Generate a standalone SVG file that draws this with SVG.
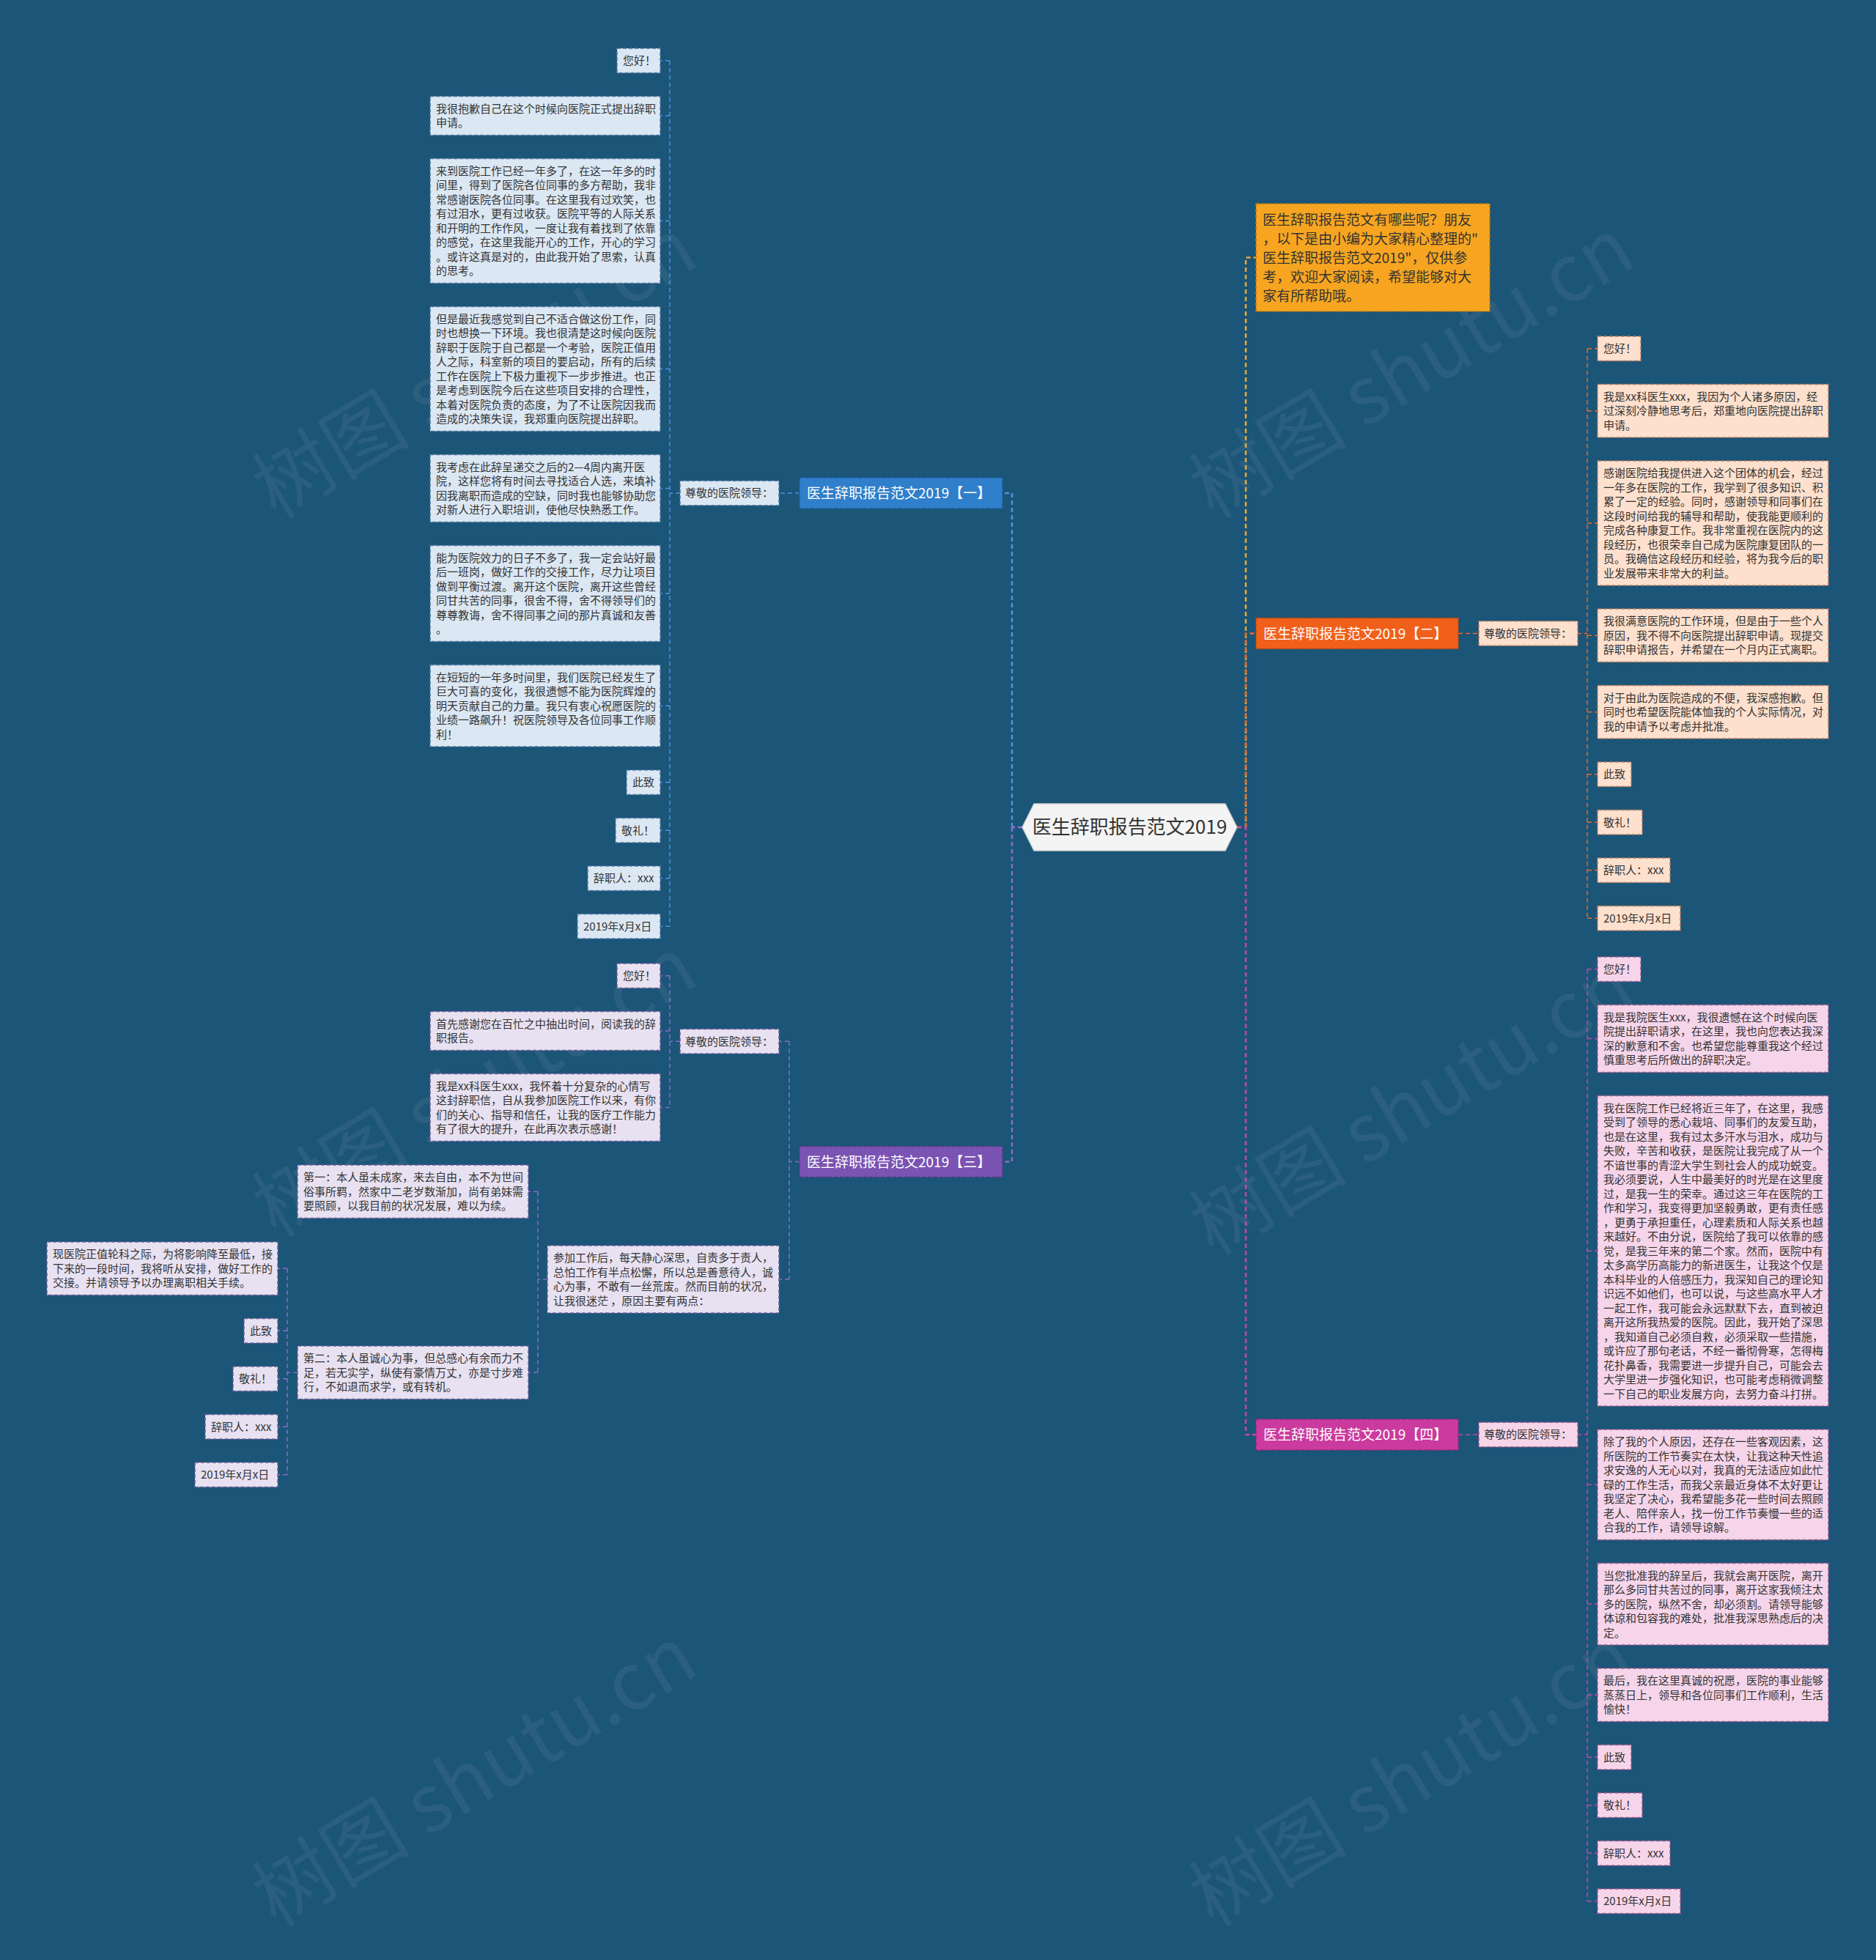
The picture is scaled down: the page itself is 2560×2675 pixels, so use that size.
<svg xmlns="http://www.w3.org/2000/svg" width="2560" height="2675" viewBox="0 0 2560 2675">
<style>
text{font-family:"Noto Sans CJK SC","Noto Sans",sans-serif;}
.t{font-size:15px;fill:#333;}
.bt{font-size:19px;fill:#fff;}
.it{font-size:19px;fill:#333;}
.ct{font-size:26px;fill:#333;}
.wm{font-size:108px;fill:#9aa3ad;opacity:0.13;}
rect{stroke-width:1.5;stroke-dasharray:5 3;}
.b1{fill:#dbe7f3;stroke:#4f78a2;}
.b2{fill:#fde0cd;stroke:#b9795c;}
.b3{fill:#e7e1f1;stroke:#6f5c98;}
.b4{fill:#f6d5ea;stroke:#a4588c;}
.n1{fill:#2f7fcb;stroke:#1d5c9c;}
.n2{fill:#f1601a;stroke:#b5450f;}
.n3{fill:#7a53b3;stroke:#573a86;}
.n4{fill:#cb3a9e;stroke:#962a74;}
.ni{fill:#f7a520;stroke:#b77712;}
path{fill:none;stroke-dasharray:6 4;stroke-width:1.5;}
.c1{stroke:#4a95dd;}
.c2{stroke:#ea6a22;}
.c3{stroke:#8b6cc6;}
.c4{stroke:#c944a2;}
.ci{stroke:#f2a62e;}
.tk{stroke-width:2.5;}
</style>
<rect x="0" y="0" width="2560" height="2675" fill="#1b5578" style="stroke:none"/>

<g id="watermark">
  <text class="wm" x="648" y="540" text-anchor="middle" transform="rotate(-31 648 503)">树图 shutu.cn</text>
  <text class="wm" x="1927" y="540" text-anchor="middle" transform="rotate(-31 1927 503)">树图 shutu.cn</text>
  <text class="wm" x="648" y="1521" text-anchor="middle" transform="rotate(-31 648 1484)">树图 shutu.cn</text>
  <text class="wm" x="1927" y="1546" text-anchor="middle" transform="rotate(-31 1927 1509)">树图 shutu.cn</text>
  <text class="wm" x="648" y="2462" text-anchor="middle" transform="rotate(-31 648 2425)">树图 shutu.cn</text>
  <text class="wm" x="1927" y="2462" text-anchor="middle" transform="rotate(-31 1927 2425)">树图 shutu.cn</text>
</g>

<g id="connectors">
  <path class="c1 tk" d="M1395,1129 H1381 M1381,1129 V673 H1368"/>
  <path class="c3 tk" d="M1395,1129 H1381 M1381,1129 V1585.5 H1368"/>
  <path class="ci tk" d="M1688,1129 H1700 V351.5 H1714"/>
  <path class="c2 tk" d="M1700,1129 V864.5 H1714"/>
  <path class="c4 tk" d="M1688,1129 H1700 V1958 H1714"/>
  <path class="c1" d="M1091,673 H1063"/>
  <path class="c1" d="M928,673 H914 M914,82.75 V1264.25 M914,82.75 H901 M914,158 H901 M914,301.5 H901 M914,503.5 H901 M914,666.5 H901 M914,810 H901 M914,963.25 H901 M914,1067.75 H901 M914,1133.25 H901 M914,1198.75 H901 M914,1264.25 H901"/>
  <path class="c3" d="M1091,1585.5 H1077 M1077,1421.25 V1746 M1077,1421.25 H1063 M1077,1746 H1063"/>
  <path class="c3" d="M928,1421.25 H914 M914,1331.75 V1511.5 M914,1331.75 H901 M914,1407 H901 M914,1511.5 H901"/>
  <path class="c3" d="M747,1746 H734 M734,1626.25 V1873.25 M734,1626.25 H721 M734,1873.25 H721"/>
  <path class="c3" d="M406,1873.25 H392 M392,1731.25 V2012.75 M392,1731.25 H379 M392,1816.25 H379 M392,1881.75 H379 M392,1947.25 H379 M392,2012.75 H379"/>
  <path class="c2" d="M1990,864.5 H2018"/>
  <path class="c2" d="M2152,864.5 H2166 M2166,475.75 V1253.25 M2166,475.75 H2180 M2166,560.75 H2180 M2166,714 H2180 M2166,867.25 H2180 M2166,971.75 H2180 M2166,1056.75 H2180 M2166,1122.25 H2180 M2166,1187.75 H2180 M2166,1253.25 H2180"/>
  <path class="c4" d="M1990,1958 H2018"/>
  <path class="c4" d="M2152,1958 H2166 M2166,1322.75 V2594.75 M2166,1322.75 H2180 M2166,1417.5 H2180 M2166,1707.25 H2180 M2166,2026.25 H2180 M2166,2189.25 H2180 M2166,2313.25 H2180 M2166,2398.25 H2180 M2166,2463.75 H2180 M2166,2529.25 H2180 M2166,2594.75 H2180"/>
</g>

<g id="center">
  <polygon points="1395,1129 1411,1097 1672,1097 1688,1129 1672,1161 1411,1161" fill="#f4f4f4" stroke="#d0d0d0" stroke-width="1.5" stroke-linejoin="round"/>
  <text class="ct" x="1541.5" y="1138" text-anchor="middle">医生辞职报告范文2019</text>
</g>

<g id="intro">
  <rect class="ni" x="1714" y="278" width="319" height="147"/>
  <text class="it"><tspan x="1723" y="306.5">医生辞职报告范文有哪些呢？朋友</tspan><tspan x="1723" y="332.5">，以下是由小编为大家精心整理的"</tspan><tspan x="1723" y="358.5">医生辞职报告范文2019"，仅供参</tspan><tspan x="1723" y="384.5">考，欢迎大家阅读，希望能够对大</tspan><tspan x="1723" y="410.5">家有所帮助哦。</tspan></text>
</g>

<g id="b1">
  <rect class="n1" x="1091" y="652" width="277" height="42"/>
  <text class="bt" x="1101" y="680">医生辞职报告范文2019【一】</text>
</g>
<g id="b1-lead">
  <rect class="b1" x="928" y="656.25" width="135" height="33.5"/>
  <text class="t" x="935" y="678.25">尊敬的医院领导：</text>
</g>
<g id="b1-c1"><rect class="b1" x="842" y="66" width="59" height="33.5"/><text class="t" x="850" y="88">您好！</text></g>
<g id="b1-c2"><rect class="b1" x="587" y="131.5" width="314" height="53"/><text class="t"><tspan x="595" y="153.5">我很抱歉自己在这个时候向医院正式提出辞职</tspan><tspan x="595" y="173">申请。</tspan></text></g>
<g id="b1-c3"><rect class="b1" x="587" y="216.5" width="314" height="170"/><text class="t"><tspan x="595" y="238.5">来到医院工作已经一年多了，在这一年多的时</tspan><tspan x="595" y="258">间里，得到了医院各位同事的多方帮助，我非</tspan><tspan x="595" y="277.5">常感谢医院各位同事。在这里我有过欢笑，也</tspan><tspan x="595" y="297">有过泪水，更有过收获。医院平等的人际关系</tspan><tspan x="595" y="316.5">和开明的工作作风，一度让我有着找到了依靠</tspan><tspan x="595" y="336">的感觉，在这里我能开心的工作，开心的学习</tspan><tspan x="595" y="355.5">。或许这真是对的，由此我开始了思索，认真</tspan><tspan x="595" y="375">的思考。</tspan></text></g>
<g id="b1-c4"><rect class="b1" x="587" y="418.5" width="314" height="170"/><text class="t"><tspan x="595" y="440.5">但是最近我感觉到自己不适合做这份工作，同</tspan><tspan x="595" y="460">时也想换一下环境。我也很清楚这时候向医院</tspan><tspan x="595" y="479.5">辞职于医院于自己都是一个考验，医院正值用</tspan><tspan x="595" y="499">人之际，科室新的项目的要启动，所有的后续</tspan><tspan x="595" y="518.5">工作在医院上下极力重视下一步步推进。也正</tspan><tspan x="595" y="538">是考虑到医院今后在这些项目安排的合理性，</tspan><tspan x="595" y="557.5">本着对医院负责的态度，为了不让医院因我而</tspan><tspan x="595" y="577">造成的决策失误，我郑重向医院提出辞职。</tspan></text></g>
<g id="b1-c5"><rect class="b1" x="587" y="620.5" width="314" height="92"/><text class="t"><tspan x="595" y="642.5">我考虑在此辞呈递交之后的2—4周内离开医</tspan><tspan x="595" y="662">院，这样您将有时间去寻找适合人选，来填补</tspan><tspan x="595" y="681.5">因我离职而造成的空缺，同时我也能够协助您</tspan><tspan x="595" y="701">对新人进行入职培训，使他尽快熟悉工作。</tspan></text></g>
<g id="b1-c6"><rect class="b1" x="587" y="744.5" width="314" height="131"/><text class="t"><tspan x="595" y="766.5">能为医院效力的日子不多了，我一定会站好最</tspan><tspan x="595" y="786">后一班岗，做好工作的交接工作，尽力让项目</tspan><tspan x="595" y="805.5">做到平衡过渡。离开这个医院，离开这些曾经</tspan><tspan x="595" y="825">同甘共苦的同事，很舍不得，舍不得领导们的</tspan><tspan x="595" y="844.5">尊尊教诲，舍不得同事之间的那片真诚和友善</tspan><tspan x="595" y="864">。</tspan></text></g>
<g id="b1-c7"><rect class="b1" x="587" y="907.5" width="314" height="111.5"/><text class="t"><tspan x="595" y="929.5">在短短的一年多时间里，我们医院已经发生了</tspan><tspan x="595" y="949">巨大可喜的变化，我很遗憾不能为医院辉煌的</tspan><tspan x="595" y="968.5">明天贡献自己的力量。我只有衷心祝愿医院的</tspan><tspan x="595" y="988">业绩一路飙升！祝医院领导及各位同事工作顺</tspan><tspan x="595" y="1007.5">利！</tspan></text></g>
<g id="b1-c8"><rect class="b1" x="855" y="1051" width="46" height="33.5"/><text class="t" x="863" y="1073">此致</text></g>
<g id="b1-c9"><rect class="b1" x="840" y="1116.5" width="61" height="33.5"/><text class="t" x="848" y="1138.5">敬礼！</text></g>
<g id="b1-c10"><rect class="b1" x="802" y="1182" width="99" height="33.5"/><text class="t" x="810" y="1204">辞职人：xxx</text></g>
<g id="b1-c11"><rect class="b1" x="788" y="1247.5" width="113" height="33.5"/><text class="t" x="796" y="1269.5">2019年x月x日</text></g>

<g id="b3">
  <rect class="n3" x="1091" y="1564.5" width="277" height="42"/>
  <text class="bt" x="1101" y="1592.5">医生辞职报告范文2019【三】</text>
</g>
<g id="b3-lead"><rect class="b3" x="928" y="1404.5" width="135" height="33.5"/><text class="t" x="935" y="1426.5">尊敬的医院领导：</text></g>
<g id="b3-c1"><rect class="b3" x="842" y="1315" width="59" height="33.5"/><text class="t" x="850" y="1337">您好！</text></g>
<g id="b3-c2"><rect class="b3" x="587" y="1380.5" width="314" height="53"/><text class="t"><tspan x="595" y="1402.5">首先感谢您在百忙之中抽出时间，阅读我的辞</tspan><tspan x="595" y="1422">职报告。</tspan></text></g>
<g id="b3-c3"><rect class="b3" x="587" y="1465.5" width="314" height="92"/><text class="t"><tspan x="595" y="1487.5">我是xx科医生xxx，我怀着十分复杂的心情写</tspan><tspan x="595" y="1507">这封辞职信，自从我参加医院工作以来，有你</tspan><tspan x="595" y="1526.5">们的关心、指导和信任，让我的医疗工作能力</tspan><tspan x="595" y="1546">有了很大的提升，在此再次表示感谢！</tspan></text></g>
<g id="b3-c4"><rect class="b3" x="747" y="1700" width="316" height="92"/><text class="t"><tspan x="755" y="1722">参加工作后，每天静心深思，自责多于责人，</tspan><tspan x="755" y="1741.5">总怕工作有半点松懈，所以总是善意待人，诚</tspan><tspan x="755" y="1761">心为事，不敢有一丝荒废。然而目前的状况，</tspan><tspan x="755" y="1780.5">让我很迷茫 ，原因主要有两点：</tspan></text></g>
<g id="b3-c5"><rect class="b3" x="406" y="1590" width="315" height="72.5"/><text class="t"><tspan x="414" y="1612">第一：本人虽未成家，来去自由，本不为世间</tspan><tspan x="414" y="1631.5">俗事所羁，然家中二老岁数渐加，尚有弟妹需</tspan><tspan x="414" y="1651">要照顾，以我目前的状况发展，难以为续。</tspan></text></g>
<g id="b3-c6"><rect class="b3" x="406" y="1837" width="315" height="72.5"/><text class="t"><tspan x="414" y="1859">第二：本人虽诚心为事，但总感心有余而力不</tspan><tspan x="414" y="1878.5">足，若无实学，纵使有豪情万丈，亦是寸步难</tspan><tspan x="414" y="1898">行，不如退而求学，或有转机。</tspan></text></g>
<g id="b3-c7"><rect class="b3" x="64" y="1695" width="315" height="72.5"/><text class="t"><tspan x="72" y="1717">现医院正值轮科之际，为将影响降至最低，接</tspan><tspan x="72" y="1736.5">下来的一段时间，我将听从安排，做好工作的</tspan><tspan x="72" y="1756">交接。并请领导予以办理离职相关手续。</tspan></text></g>
<g id="b3-c8"><rect class="b3" x="333" y="1799.5" width="46" height="33.5"/><text class="t" x="341" y="1821.5">此致</text></g>
<g id="b3-c9"><rect class="b3" x="318" y="1865" width="61" height="33.5"/><text class="t" x="326" y="1887">敬礼！</text></g>
<g id="b3-c10"><rect class="b3" x="280" y="1930.5" width="99" height="33.5"/><text class="t" x="288" y="1952.5">辞职人：xxx</text></g>
<g id="b3-c11"><rect class="b3" x="266" y="1996" width="113" height="33.5"/><text class="t" x="274" y="2018">2019年x月x日</text></g>

<g id="b2">
  <rect class="n2" x="1714" y="843.5" width="276" height="42"/>
  <text class="bt" x="1724" y="871.5">医生辞职报告范文2019【二】</text>
</g>
<g id="b2-lead"><rect class="b2" x="2018" y="847.75" width="135" height="33.5"/><text class="t" x="2025" y="869.75">尊敬的医院领导：</text></g>
<g id="b2-c1"><rect class="b2" x="2180" y="459" width="59" height="33.5"/><text class="t" x="2188" y="481">您好！</text></g>
<g id="b2-c2"><rect class="b2" x="2180" y="524.5" width="315" height="72.5"/><text class="t"><tspan x="2188" y="546.5">我是xx科医生xxx，我因为个人诸多原因，经</tspan><tspan x="2188" y="566">过深刻冷静地思考后，郑重地向医院提出辞职</tspan><tspan x="2188" y="585.5">申请。</tspan></text></g>
<g id="b2-c3"><rect class="b2" x="2180" y="629" width="315" height="170"/><text class="t"><tspan x="2188" y="651">感谢医院给我提供进入这个团体的机会，经过</tspan><tspan x="2188" y="670.5">一年多在医院的工作，我学到了很多知识、积</tspan><tspan x="2188" y="690">累了一定的经验。同时，感谢领导和同事们在</tspan><tspan x="2188" y="709.5">这段时间给我的辅导和帮助，使我能更顺利的</tspan><tspan x="2188" y="729">完成各种康复工作。我非常重视在医院内的这</tspan><tspan x="2188" y="748.5">段经历，也很荣幸自己成为医院康复团队的一</tspan><tspan x="2188" y="768">员。我确信这段经历和经验，将为我今后的职</tspan><tspan x="2188" y="787.5">业发展带来非常大的利益。</tspan></text></g>
<g id="b2-c4"><rect class="b2" x="2180" y="831" width="315" height="72.5"/><text class="t"><tspan x="2188" y="853">我很满意医院的工作环境，但是由于一些个人</tspan><tspan x="2188" y="872.5">原因，我不得不向医院提出辞职申请。现提交</tspan><tspan x="2188" y="892">辞职申请报告，并希望在一个月内正式离职。</tspan></text></g>
<g id="b2-c5"><rect class="b2" x="2180" y="935.5" width="315" height="72.5"/><text class="t"><tspan x="2188" y="957.5">对于由此为医院造成的不便，我深感抱歉。但</tspan><tspan x="2188" y="977">同时也希望医院能体恤我的个人实际情况，对</tspan><tspan x="2188" y="996.5">我的申请予以考虑并批准。</tspan></text></g>
<g id="b2-c6"><rect class="b2" x="2180" y="1040" width="46" height="33.5"/><text class="t" x="2188" y="1062">此致</text></g>
<g id="b2-c7"><rect class="b2" x="2180" y="1105.5" width="61" height="33.5"/><text class="t" x="2188" y="1127.5">敬礼！</text></g>
<g id="b2-c8"><rect class="b2" x="2180" y="1171" width="99" height="33.5"/><text class="t" x="2188" y="1193">辞职人：xxx</text></g>
<g id="b2-c9"><rect class="b2" x="2180" y="1236.5" width="113" height="33.5"/><text class="t" x="2188" y="1258.5">2019年x月x日</text></g>

<g id="b4">
  <rect class="n4" x="1714" y="1937" width="276" height="42"/>
  <text class="bt" x="1724" y="1965">医生辞职报告范文2019【四】</text>
</g>
<g id="b4-lead"><rect class="b4" x="2018" y="1941.25" width="135" height="33.5"/><text class="t" x="2025" y="1963.25">尊敬的医院领导：</text></g>
<g id="b4-c1"><rect class="b4" x="2180" y="1306" width="59" height="33.5"/><text class="t" x="2188" y="1328">您好！</text></g>
<g id="b4-c2"><rect class="b4" x="2180" y="1371.5" width="315" height="92"/><text class="t"><tspan x="2188" y="1393.5">我是我院医生xxx，我很遗憾在这个时候向医</tspan><tspan x="2188" y="1413">院提出辞职请求，在这里，我也向您表达我深</tspan><tspan x="2188" y="1432.5">深的歉意和不舍。也希望您能尊重我这个经过</tspan><tspan x="2188" y="1452">慎重思考后所做出的辞职决定。</tspan></text></g>
<g id="b4-c3"><rect class="b4" x="2180" y="1495.5" width="315" height="423.5"/><text class="t"><tspan x="2188" y="1517.5">我在医院工作已经将近三年了，在这里，我感</tspan><tspan x="2188" y="1537">受到了领导的悉心栽培、同事们的友爱互助，</tspan><tspan x="2188" y="1556.5">也是在这里，我有过太多汗水与泪水，成功与</tspan><tspan x="2188" y="1576">失败，辛苦和收获，是医院让我完成了从一个</tspan><tspan x="2188" y="1595.5">不谙世事的青涩大学生到社会人的成功蜕变。</tspan><tspan x="2188" y="1615">我必须要说，人生中最美好的时光是在这里度</tspan><tspan x="2188" y="1634.5">过，是我一生的荣幸。通过这三年在医院的工</tspan><tspan x="2188" y="1654">作和学习，我变得更加坚毅勇敢，更有责任感</tspan><tspan x="2188" y="1673.5">，更勇于承担重任，心理素质和人际关系也越</tspan><tspan x="2188" y="1693">来越好。不由分说，医院给了我可以依靠的感</tspan><tspan x="2188" y="1712.5">觉，是我三年来的第二个家。然而，医院中有</tspan><tspan x="2188" y="1732">太多高学历高能力的新进医生，让我这个仅是</tspan><tspan x="2188" y="1751.5">本科毕业的人倍感压力，我深知自己的理论知</tspan><tspan x="2188" y="1771">识远不如他们，也可以说，与这些高水平人才</tspan><tspan x="2188" y="1790.5">一起工作，我可能会永远默默下去，直到被迫</tspan><tspan x="2188" y="1810">离开这所我热爱的医院。因此，我开始了深思</tspan><tspan x="2188" y="1829.5">，我知道自己必须自救，必须采取一些措施，</tspan><tspan x="2188" y="1849">或许应了那句老话，不经一番彻骨寒，怎得梅</tspan><tspan x="2188" y="1868.5">花扑鼻香，我需要进一步提升自己，可能会去</tspan><tspan x="2188" y="1888">大学里进一步强化知识，也可能考虑稍微调整</tspan><tspan x="2188" y="1907.5">一下自己的职业发展方向，去努力奋斗打拼。</tspan></text></g>
<g id="b4-c4"><rect class="b4" x="2180" y="1951" width="315" height="150.5"/><text class="t"><tspan x="2188" y="1973">除了我的个人原因，还存在一些客观因素，这</tspan><tspan x="2188" y="1992.5">所医院的工作节奏实在太快，让我这种天性追</tspan><tspan x="2188" y="2012">求安逸的人无心以对，我真的无法适应如此忙</tspan><tspan x="2188" y="2031.5">碌的工作生活，而我父亲最近身体不太好更让</tspan><tspan x="2188" y="2051">我坚定了决心，我希望能多花一些时间去照顾</tspan><tspan x="2188" y="2070.5">老人、陪伴亲人，找一份工作节奏慢一些的适</tspan><tspan x="2188" y="2090">合我的工作，请领导谅解。</tspan></text></g>
<g id="b4-c5"><rect class="b4" x="2180" y="2133.5" width="315" height="111.5"/><text class="t"><tspan x="2188" y="2155.5">当您批准我的辞呈后，我就会离开医院，离开</tspan><tspan x="2188" y="2175">那么多同甘共苦过的同事，离开这家我倾注太</tspan><tspan x="2188" y="2194.5">多的医院，纵然不舍，却必须割。请领导能够</tspan><tspan x="2188" y="2214">体谅和包容我的难处，批准我深思熟虑后的决</tspan><tspan x="2188" y="2233.5">定。</tspan></text></g>
<g id="b4-c6"><rect class="b4" x="2180" y="2277" width="315" height="72.5"/><text class="t"><tspan x="2188" y="2299">最后，我在这里真诚的祝愿，医院的事业能够</tspan><tspan x="2188" y="2318.5">蒸蒸日上，领导和各位同事们工作顺利，生活</tspan><tspan x="2188" y="2338">愉快！</tspan></text></g>
<g id="b4-c7"><rect class="b4" x="2180" y="2381.5" width="46" height="33.5"/><text class="t" x="2188" y="2403.5">此致</text></g>
<g id="b4-c8"><rect class="b4" x="2180" y="2447" width="61" height="33.5"/><text class="t" x="2188" y="2469">敬礼！</text></g>
<g id="b4-c9"><rect class="b4" x="2180" y="2512.5" width="99" height="33.5"/><text class="t" x="2188" y="2534.5">辞职人：xxx</text></g>
<g id="b4-c10"><rect class="b4" x="2180" y="2578" width="113" height="33.5"/><text class="t" x="2188" y="2600">2019年x月x日</text></g>
</svg>
